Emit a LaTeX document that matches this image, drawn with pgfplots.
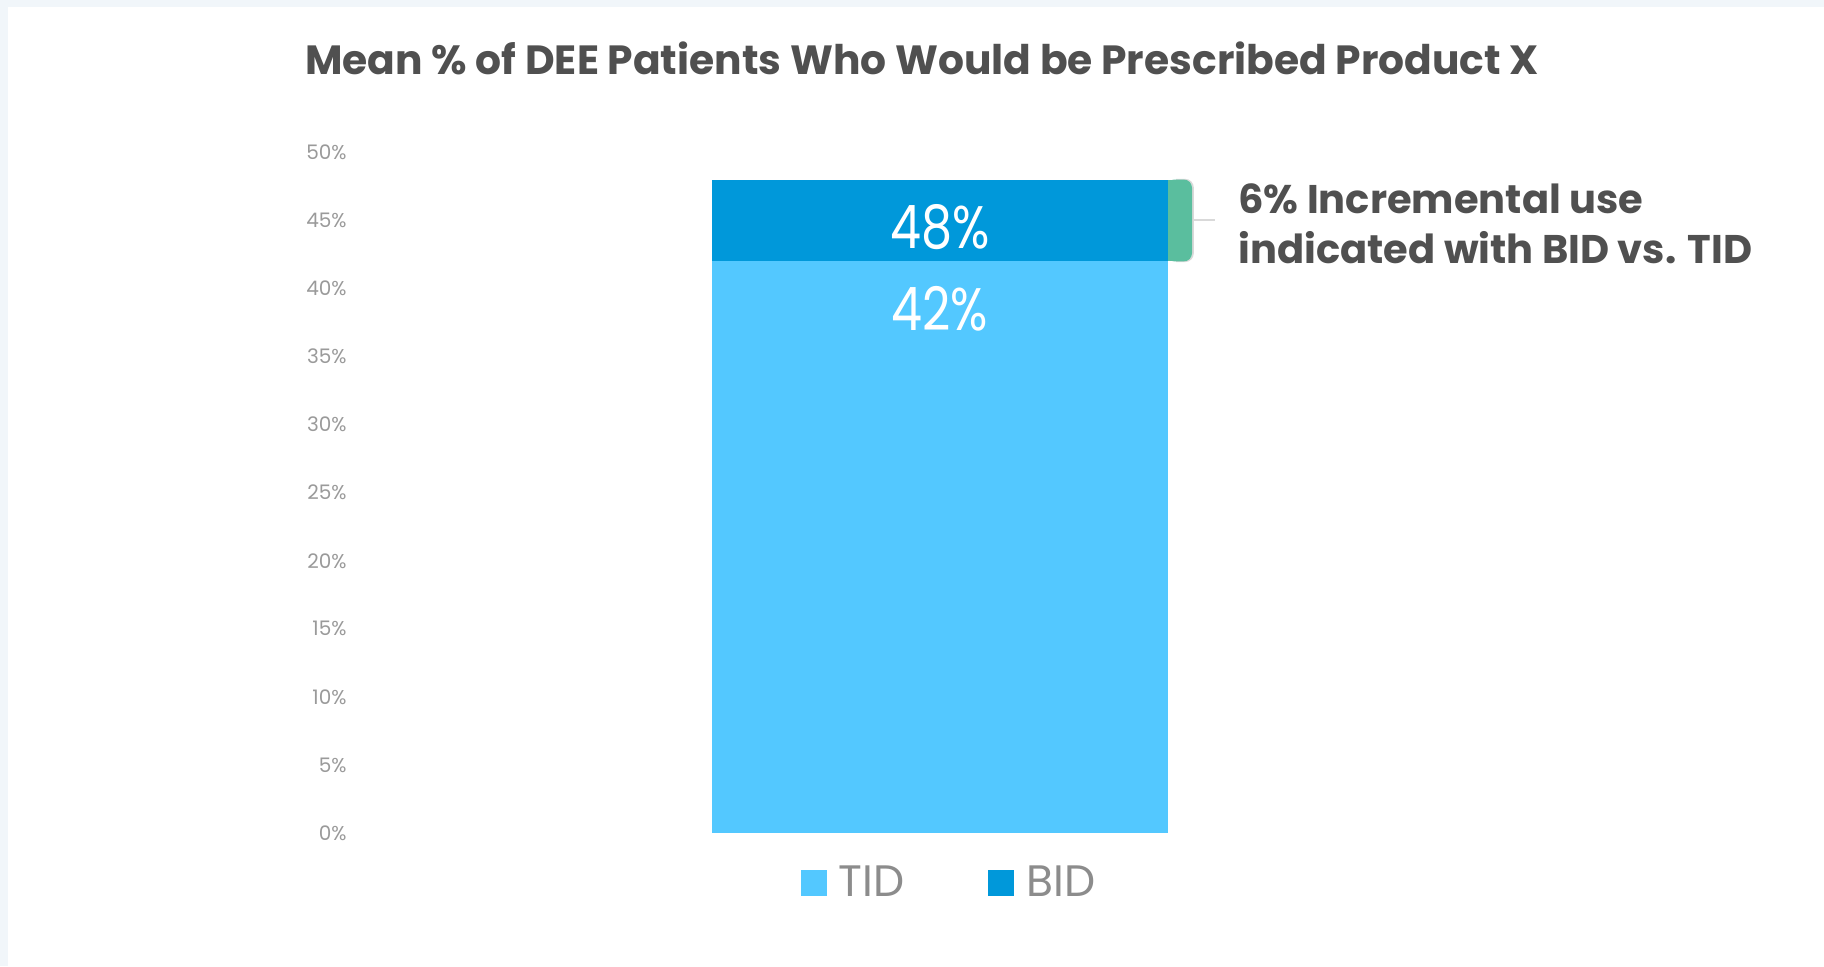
\documentclass[border=0pt]{standalone}
\usepackage{pgfplots}
\pgfplotsset{compat=1.18}
\usepackage{fontspec}
\setmainfont{Poppins}
\newfontfamily\barfont[FakeStretch=0.82]{Poppins}
\definecolor{tidblue}{HTML}{53C8FF}
\definecolor{bidblue}{HTML}{0098DA}
\definecolor{bracegreen}{HTML}{5ABE9E}
\definecolor{titlegray}{HTML}{505050}
\definecolor{tickgray}{HTML}{9A9A9A}
\definecolor{legendgray}{HTML}{8C8C8C}
\definecolor{bgframe}{HTML}{F1F6FA}
\begin{document}
\begin{tikzpicture}
\fill[bgframe] (0,0) rectangle (912pt,483pt);
\fill[white] (4pt,0) rectangle (912pt,479.5pt);
\begin{axis}[
  at={(180pt,66.5pt)}, anchor=south west,
  scale only axis, width=580pt, height=340.3pt,
  ybar stacked, bar width=228pt,
  xmin=-1, xmax=1, ymin=0, ymax=50,
  xtick=\empty,
  ytick={0,5,...,50},
  yticklabel={\pgfmathprintnumber{\tick}\%},
  /pgf/number format/assume math mode=true,
  yticklabel style={anchor=east, inner sep=0pt, xshift=-6.5pt, text=tickgray, font=\fontsize{10}{12}\selectfont},
  axis line style={draw=none},
  major tick length=0pt,
  clip=false,
  point meta=explicit,
  nodes near coords={\barfont\pgfmathprintnumber{\pgfplotspointmeta}\%},
  every node near coord/.append style={anchor=center, inner sep=0pt, text=white, font=\fontsize{30}{34}\selectfont},
  legend columns=2,
  legend style={at={(0.5086,-0.0735)}, anchor=center, draw=none, fill=none, inner sep=0pt,
    font=\fontsize{22}{26}\selectfont, text=legendgray,
    /tikz/every odd column/.append style={column sep=4pt},
    /tikz/every even column/.append style={column sep=40pt}},
  legend image code/.code={\fill[#1,draw=none] (0pt,-6.5pt) rectangle (13pt,6.5pt);},
]
\addplot[fill=tidblue, draw=none, every node near coord/.append style={yshift=119pt}] coordinates {(0,42) [42]};
\addlegendentry{TID}
\addplot[fill=bidblue, draw=none, every node near coord/.append style={yshift=-3.4pt}] coordinates {(0,6) [48]};
\addlegendentry{BID}
% bracket showing the increment
\fill[bracegreen, rounded corners=4pt] ([xshift=113pt]axis cs:0,48) -- ([xshift=126pt]axis cs:0,48) -- ([xshift=126pt]axis cs:0,42) -- ([xshift=113pt]axis cs:0,42) -- cycle;
\fill[bracegreen] ([xshift=113pt]axis cs:0,48) rectangle ([xshift=118pt]axis cs:0,42);
\draw[black!15, line width=0.8pt, rounded corners=4pt] ([xshift=118pt]axis cs:0,48) -- ([xshift=126.5pt]axis cs:0,48) -- ([xshift=126.5pt]axis cs:0,42) -- ([xshift=118pt]axis cs:0,42);
\draw[black!15, line width=1pt] ([xshift=126.5pt]axis cs:0,45) -- ([xshift=137.5pt]axis cs:0,45);
\end{axis}
\node[anchor=base west, inner sep=0pt, text=titlegray, font=\fontsize{20.4}{25}\selectfont\bfseries] at (152.5pt,445.5pt) {Mean \% of DEE Patients Who Would be Prescribed Product X};
\node[anchor=base west, inner sep=0pt, text=titlegray, font=\fontsize{20}{25}\selectfont\bfseries] at (619pt,376.5pt) {6\% Incremental use};
\node[anchor=base west, inner sep=0pt, text=titlegray, font=\fontsize{20}{25}\selectfont\bfseries] at (619pt,351.5pt) {indicated with BID vs. TID};
\end{tikzpicture}
\end{document}
